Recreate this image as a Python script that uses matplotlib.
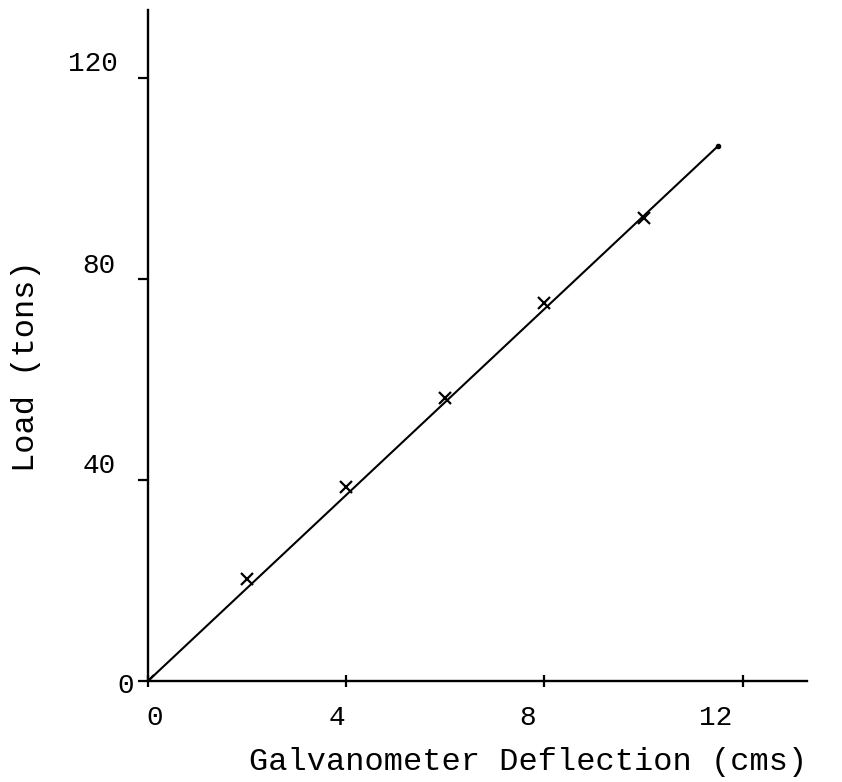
import matplotlib.pyplot as plt
from matplotlib.transforms import ScaledTranslation

# calibration readings: galvanometer deflection (cms) vs load (tons)
deflection = [0, 2, 4, 6, 8, 10]
load = [0, 20.3, 38.6, 56.3, 75.2, 92.1]

# straight line drawn through the readings
fit_x = [0, 11.5]
fit_y = [0, 106.4]

x_ticks = [0, 4, 8, 12]
y_ticks = [0, 40, 80, 120]

font = 'Liberation Mono'

fig = plt.figure(figsize=(8.42, 7.82), dpi=100)
ax = fig.add_axes([0.1758, 0.1292, 0.7827, 0.858])

ax.plot(fit_x, fit_y, 'k-', lw=1.5)
ax.plot(fit_x[-1:], fit_y[-1:], 'ko', ms=3)
ax.plot(deflection, load, 'kx', ms=9, mew=1.6)

ax.set_xlim(0, 13.3)
ax.set_ylim(0, 133.5)

for side in ['top', 'right']:
    ax.spines[side].set_visible(False)
for side in ['left', 'bottom']:
    ax.spines[side].set_linewidth(1.7)

ax.set_xticks(x_ticks)
ax.set_xticklabels([str(t) for t in x_ticks], fontfamily=font, fontsize=20)
ax.set_yticks(y_ticks)
ax.set_yticklabels([str(t) for t in y_ticks], fontfamily=font, fontsize=20)
ax.tick_params(axis='x', direction='inout', length=8, width=1.6, pad=13)
ax.tick_params(axis='y', direction='out', length=7, width=1.6, pad=10)

# typewritten labels sit a little off the tick marks
x_shift = [7, -9, -17, -27]
for lab, dx in zip(ax.get_xticklabels(), x_shift):
    lab.set_transform(lab.get_transform() + ScaledTranslation(dx / 100, 0, fig.dpi_scale_trans))
y_shift = [(10, -2), (-9, 17), (-9, 16), (-7, 17)]
for lab, (dx, dy) in zip(ax.get_yticklabels(), y_shift):
    lab.set_transform(lab.get_transform() + ScaledTranslation(dx / 100, dy / 100, fig.dpi_scale_trans))

ax.set_xlabel('Galvanometer Deflection (cms)', fontfamily=font, fontsize=23,
              loc='right', labelpad=12)
ax.set_ylabel('Load (tons)', fontfamily=font, fontsize=23)
ax.yaxis.set_label_coords(-0.162, 0.469)

fig.savefig('out.png', dpi=100)
